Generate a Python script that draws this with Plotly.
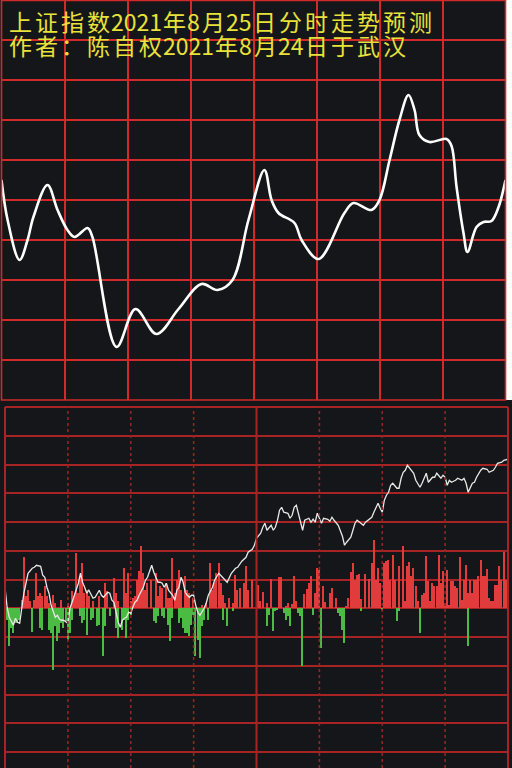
import plotly.graph_objects as go

# ---------------- text ----------------
title_line1 = "上证指数2021年8月25日分时走势预测"
title_line2 = "作者：陈自权2021年8月24日于武汉"

# ---------------- top: forecast curve (minute of session, level in grid units) ----------------
fc_minute = [0, 2.9, 8.6, 12.4, 15.2, 21.9, 26.7, 31.4, 34.8, 41, 43.3, 54.8, 63.8, 73.8, 84.3,
             95.2, 102.9, 110, 117.6, 125.2, 128.6, 131.9, 139.5, 142.9, 151, 163.3, 167.6,
             176.2, 180, 184.8, 189.5, 193.8, 196.7, 199.0, 203.8, 211.9, 214.3, 216.7, 220,
             221.9, 226.2, 229.5, 233.3, 236.7, 240]
fc_level = [5.5, 4.5, 3.5, 4.0, 4.575, 5.375, 4.75, 4.25, 4.075, 4.3, 4.075, 1.325, 2.275, 1.65, 2.275,
            2.9, 2.75, 3.0, 4.5, 5.75, 5.0, 4.675, 4.425, 4.0, 3.525, 4.675, 4.925,
            4.75, 5.0, 6.0, 7.0, 7.625, 7.25, 6.625, 6.45, 6.525, 6.35, 5.325, 4.175,
            3.7, 4.325, 4.45, 4.475, 4.825, 5.5]

# ---------------- bottom: actual intraday price (relative units) ----------------
px_minute = [0, 1, 2, 4, 5, 6, 7, 8, 9, 10, 11, 13, 14, 15, 17, 18, 19, 20, 21, 22, 23, 24, 25, 26, 27, 28,
             30, 31, 32, 34, 35, 36, 37, 38, 39, 40, 42, 43, 44, 45, 46, 47, 49, 50, 51, 52, 53, 54, 55,
             56, 57, 58, 59, 60, 61, 62, 63, 64, 66, 67, 68, 69, 70, 71, 72, 73, 74, 75, 76, 77, 78, 80,
             81, 82, 83, 84, 85, 86, 87, 88, 89, 90, 91, 92, 93, 94, 95, 96, 97, 99, 100, 102, 104, 105,
             106, 108, 110, 111, 113, 115, 116, 118, 119, 120, 122, 123, 124, 125, 127, 128, 129, 130,
             131, 132, 133, 135, 136, 137, 138, 139, 140, 141, 142, 143, 145, 146, 147, 148, 149, 150,
             151, 152, 154, 155, 156, 157, 158, 159, 161, 162, 163, 165, 166, 167, 168, 170, 171, 172,
             173, 175, 176, 177, 178, 179, 180, 181, 182, 183, 184, 185, 187, 188, 189, 190, 191, 192,
             194, 195, 196, 197, 198, 199, 201, 202, 203, 204, 205, 206, 208, 209, 210, 211, 212, 213,
             215, 216, 218, 219, 220, 221, 223, 224, 225, 227, 228, 230, 231, 233, 234, 235, 237, 238, 240]
px_value = [21, 1, -9, -17, -10, -14, -15, 1, 15, 25, 35, 40, 41, 43, 42, 33, 31, 21, 15, 3, -4, -9, -7, -11, -12, -12,
            -15, 0, 6, 20, 25, 35, 26, 21, 15, 18, 10, 11, 15, 18, 13, 11, 16, 15, 8, 6, -4, -14, -19,
            -12, -10, -9, -4, -5, 1, 6, 8, 13, 21, 28, 31, 38, 43, 36, 31, 26, 26, 25, 21, 25, 18, 13,
            8, 18, 21, 31, 26, 16, 13, 11, 13, 13, 3, -4, -7, -4, 0, 5, 13, 21, 28, 35, 31, 28,
            26, 35, 40, 41, 47, 51, 56, 59, 63, 70, 75, 81, 85, 78, 83, 78, 81, 88,
            98, 101, 96, 95, 90, 93, 101, 103, 95, 86, 78, 88, 90, 86, 89, 86, 95, 90,
            85, 90, 89, 87, 91, 88, 86, 83, 72, 63, 66, 71, 78, 85, 88, 85, 83, 86,
            88, 91, 96, 101, 105, 100, 96, 108, 113, 116, 123, 125, 120, 120, 130, 136, 138, 143,
            138, 135, 128, 125, 121, 125, 135, 126, 128, 131, 131, 135, 130, 133, 131, 123, 128, 126,
            128, 130, 128, 130, 125, 116, 125, 126, 131, 138, 140, 139, 136, 138, 141, 145, 146, 148, 149]

# ---------------- bottom: volume bars (buy = red, sell = green) ----------------
buy_minute = [8, 9, 10, 11, 12, 14, 15, 16, 17, 18, 19, 20, 21, 23, 24, 27, 30, 32, 33, 34, 35, 36, 37, 38, 39,
              40, 42, 45, 48, 49, 52, 53, 54, 57, 58, 59, 60, 61, 62, 63, 64, 65, 66, 67, 68, 70, 72, 73,
              74, 75, 77, 78, 79, 80, 81, 82, 83, 84, 86, 87, 88, 90, 94, 96, 98, 99, 100, 101, 102, 103,
              104, 105, 107, 109, 110, 111, 112, 114, 115, 116, 118,
              121, 122, 123, 125, 127, 131, 132, 134, 135, 137, 138, 139, 143, 144, 145, 146, 148, 149,
              150, 152, 153, 155, 156, 158, 163, 164, 165, 166, 167, 168, 169, 170, 172, 174, 175, 176,
              177, 178, 179, 181, 182, 183, 184, 185, 186, 188, 190, 191, 192, 193, 194, 195, 196, 197,
              199, 200, 201, 202, 203, 204, 205, 206, 207, 208, 209, 210, 211, 212, 213, 214, 215, 216,
              217, 218, 219, 220, 221, 222, 223, 224, 225, 226, 227, 228, 229, 230, 231, 232, 233, 234,
              235, 236, 237, 238, 239, 240]
buy_value = [8, 51, 12, 18, 7, 8, 35, 12, 15, 12, 22, 12, 5, 13, 5, 8, 5, 17, 12, 55, 15, 32, 45, 15, 18,
             12, 7, 12, 25, 17, 30, 15, 7, 40, 15, 35, 7, 10, 12, 28, 37, 62, 35, 18, 25, 28, 35, 12,
             22, 20, 25, 10, 10, 50, 15, 28, 38, 18, 32, 18, 15, 10, 3, 5, 45, 18, 25, 35, 45, 25,
             13, 5, 10, 5, 33, 18, 20, 25, 42, 18, 28,
             23, 7, 16, 5, 29, 31, 31, 2, 5, 4, 32, 7, 14, 19, 25, 32, 15, 40,
             38, 22, 6, 15, 20, 10, 2, 10, 36, 45, 28, 33, 34, 9, 34, 29, 45, 68,
             28, 40, 25, 45, 47, 48, 28, 53, 28, 42, 62, 7, 42, 46, 32, 40, 22, 7,
             13, 15, 52, 27, 7, 25, 22, 22, 53, 25, 37, 5, 38, 3, 27, 27, 22, 20,
             51, 8, 28, 43, 15, 28, 15, 28, 28, 32, 48, 32, 32, 39, 10, 7, 7, 23,
             23, 42, 28, 56, 28, 28]
sell_minute = [0, 1, 2, 3, 4, 5, 6, 7, 13, 17, 18, 21, 22, 23, 24, 25, 26, 27, 28, 29, 30, 31, 32, 36, 37, 38,
               39, 41, 42, 44, 45, 47, 48, 50, 53, 54, 56, 57, 58, 59, 60, 71, 72, 73, 75, 76, 78, 79, 80,
               83, 84, 85, 86, 87, 88, 89, 90, 91, 92, 93, 94, 95, 97, 104, 106, 109,
               125, 126, 128, 129, 130, 133, 134, 135, 136, 140, 141, 142, 147, 151, 159, 160, 161, 162,
               170, 180, 187, 188, 198, 221]
sell_value = [-12, -12, -38, -20, -25, -15, -15, -12, -24, -20, -22, -22, -25, -62, -18, -33, -25, -15, -20, -13,
              -32, -25, -12, -8, -15, -12, -27, -12, -10, -18, -17, -48, -18, -8, -20, -30, -22, -12, -30,
              -12, -7, -13, -15, -8, -8, -10, -17, -33, -10, -15, -10, -20, -25, -25, -28, -17, -7, -48,
              -32, -50, -18, -12, -12, -12, -18, -3,
              -18, -7, -23, -3, -2, -5, -12, -8, -18, -5, -8, -58, -7, -40, -5, -8, -22, -35,
              -3, -2, -13, -3, -25, -38]

# ---------------- styling ----------------
BG = "#151619"
TOP_GRID = "#d02a2a"
BOT_GRID = "#a82424"
YELLOW = "#e8e23a"
W, H = 512, 768

fig = go.Figure()

fig.add_trace(go.Scatter(x=fc_minute, y=fc_level, mode="lines",
                         line=dict(color="#ffffff", width=2.6, shape="spline", smoothing=1.0),
                         xaxis="x", yaxis="y", hoverinfo="skip", showlegend=False))

fig.add_trace(go.Bar(x=buy_minute, y=buy_value, width=0.7, marker=dict(color="#e23b3b", line=dict(width=0)),
                     xaxis="x2", yaxis="y2", showlegend=False))
fig.add_trace(go.Bar(x=sell_minute, y=sell_value, width=0.7, marker=dict(color="#4cbb44", line=dict(width=0)),
                     xaxis="x2", yaxis="y2", showlegend=False))
fig.add_trace(go.Scatter(x=px_minute, y=px_value, mode="lines",
                         line=dict(color="#e8e8e8", width=1.3),
                         xaxis="x2", yaxis="y2", showlegend=False))

shapes = []
# white strip at top right
shapes.append(dict(type="rect", xref="paper", yref="paper", x0=506 / W, x1=1.02, y0=1 - 400 / H, y1=1.01,
                   fillcolor="#ffffff", line=dict(width=0), layer="below"))
# top panel frame
shapes.append(dict(type="rect", xref="paper", yref="paper", x0=1.5 / W, x1=505.5 / W, y0=1 - 400 / H, y1=1 - 0.5 / H,
                   line=dict(color=TOP_GRID, width=1.6), fillcolor="rgba(0,0,0,0)"))
# bottom panel frame lines
for xp in (5, 508):
    shapes.append(dict(type="line", xref="paper", yref="paper", x0=xp / W, x1=xp / W, y0=0, y1=1 - 407 / H,
                       line=dict(color=BOT_GRID, width=2)))
shapes.append(dict(type="line", xref="paper", yref="paper", x0=5 / W, x1=508 / W, y0=1 - 407 / H, y1=1 - 407 / H,
                   line=dict(color=BOT_GRID, width=2)))
# bottom verticals: solid at noon, dotted elsewhere
shapes.append(dict(type="line", xref="x2", yref="paper", x0=120, x1=120, y0=0, y1=1 - 407 / H,
                   line=dict(color=BOT_GRID, width=2)))
for m in (30, 60, 90, 150, 180, 210):
    shapes.append(dict(type="line", xref="x2", yref="paper", x0=m, x1=m, y0=0, y1=1 - 407 / H,
                       line=dict(color="#8e2626", width=1.6, dash="dot")))


# title: laid out run by run with wide, fixed-pitch spacing (CJK 26px, digits 12.5px)
def title_annotations(text, y_px, x_start=7.0):
    anns = []
    runs = []
    for ch in text:
        if ch.isascii() and runs and runs[-1][1]:
            runs[-1][0] += ch
        else:
            runs.append([ch, ch.isascii()])
    x = x_start
    for run, is_ascii in runs:
        adv = 12.6 * len(run) if is_ascii else 26.0
        anns.append(dict(text=run, xref="paper", yref="paper", x=(x + adv / 2) / W, y=1 - y_px / H,
                         xanchor="center", yanchor="middle", showarrow=False,
                         font=dict(family="Noto Sans CJK SC", size=23, color=YELLOW)))
        x += adv
    return anns


annotations = title_annotations(title_line1, 21.5) + title_annotations(title_line2, 44.5)

fig.update_layout(
    width=W, height=H, margin=dict(l=0, r=0, t=0, b=0),
    paper_bgcolor=BG, plot_bgcolor=BG, bargap=0, barmode="overlay",
    xaxis=dict(domain=[1.5 / W, 505.5 / W], range=[0, 240], showgrid=True, tick0=0, dtick=30,
               gridcolor=TOP_GRID, gridwidth=1.5, showticklabels=False, zeroline=False, ticks=""),
    yaxis=dict(domain=[1 - 400 / H, 1], range=[0, 10], showgrid=True, tick0=0, dtick=1,
               gridcolor=TOP_GRID, gridwidth=1.5, showticklabels=False, zeroline=False, ticks=""),
    xaxis2=dict(domain=[5 / W, 508 / W], range=[0, 240], showgrid=False, showticklabels=False,
                zeroline=False, ticks="", anchor="y2"),
    yaxis2=dict(domain=[0, 1 - 407 / H], range=[-159.75, 201.25], showgrid=True, tick0=0, dtick=28.75,
                gridcolor=BOT_GRID, gridwidth=2, showticklabels=False, zeroline=False, ticks="", anchor="x2"),
    shapes=shapes,
    annotations=annotations,
)

fig.write_html("out.html", config={"displayModeBar": False},
               post_script="document.body.style.margin='0';document.body.style.background='#151619';")
